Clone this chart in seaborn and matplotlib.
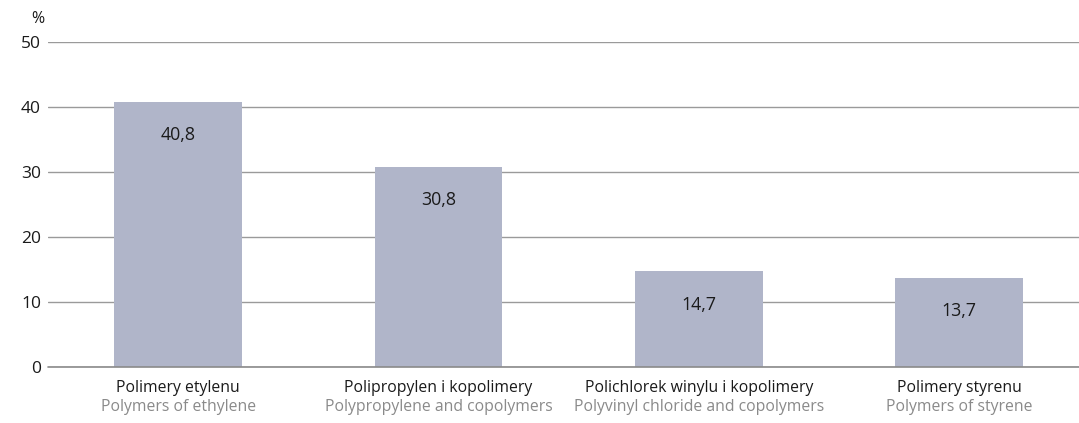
import matplotlib
matplotlib.use("Agg")
import matplotlib.pyplot as plt
import matplotlib.transforms as mtransforms
import seaborn as sns
import pandas as pd

categories_pl = ["Polimery etylenu", "Polipropylen i kopolimery",
                 "Polichlorek winylu i kopolimery", "Polimery styrenu"]
categories_en = ["Polymers of ethylene", "Polypropylene and copolymers",
                 "Polyvinyl chloride and copolymers", "Polymers of styrene"]
values = [40.8, 30.8, 14.7, 13.7]
value_labels = ["40,8", "30,8", "14,7", "13,7"]
y_ticks = [0, 10, 20, 30, 40, 50]

sns.set_theme(style="white")
plt.rcParams['font.family'] = ['Open Sans', 'DejaVu Sans']

fig = plt.figure(figsize=(10.79, 4.23), dpi=100)
ax = fig.add_axes([48/1079, 1 - 367/423, 1 - 48/1079, (367 - 42)/423])

df = pd.DataFrame({"cat": categories_pl, "val": values})
sns.barplot(data=df, x="cat", y="val", color="#b0b5c9", saturation=1,
            width=0.49, ax=ax, zorder=3, linewidth=0, edgecolor="none")

ax.set_ylim(0, 50)
ax.set_xlim(-0.5, 3.46)
ax.set_yticks(y_ticks)
ax.set_yticklabels([str(t) for t in y_ticks], fontsize=12.5, color="#1a1a1a")
ax.tick_params(axis="y", length=0, pad=5)
ax.set_xticks([])
ax.set_xlabel("")
ax.set_ylabel("")
for s in ax.spines.values():
    s.set_visible(False)
ax.yaxis.grid(True, color="#9a9a9a", linewidth=1.0, zorder=0)
ax.axhline(0, color="#8a8a8a", linewidth=1.2, clip_on=False, zorder=4)
ax.set_axisbelow(True)

for i, (v, lab) in enumerate(zip(values, value_labels)):
    ax.annotate(lab, (i, v), xytext=(0, -24), textcoords="offset points",
                ha="center", va="center", fontsize=12.8, color="#1a1a1a")

trans = mtransforms.blended_transform_factory(ax.transData, ax.transAxes)
for i, (pl, en) in enumerate(zip(categories_pl, categories_en)):
    ax.text(i, -21/325, pl, transform=trans, ha="center", va="center",
            fontsize=11.3, color="#1a1a1a")
    ax.text(i, -40/325, en, transform=trans, ha="center", va="center",
            fontsize=11.3, color="#8a8a8a")

fig.text(38/1079, 1 - 19/423, "%", ha="center", va="center", fontsize=11.5,
         color="#1a1a1a")

fig.savefig("out.png", dpi=100)
